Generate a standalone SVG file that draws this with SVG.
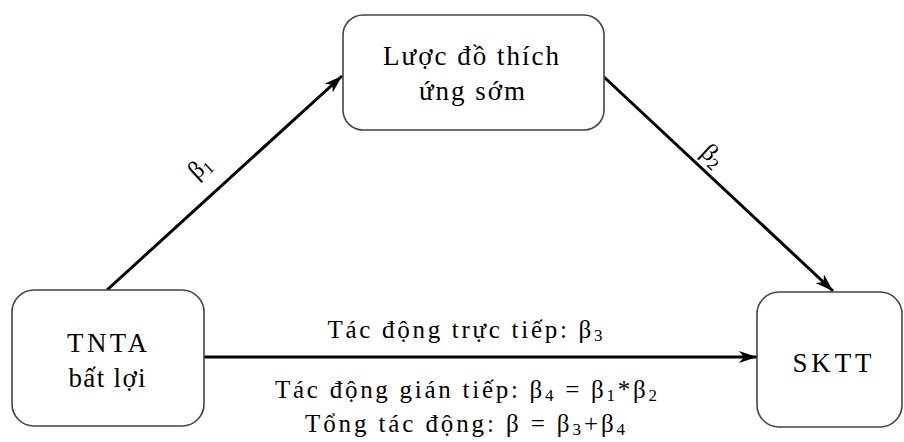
<svg xmlns="http://www.w3.org/2000/svg" width="904" height="442" viewBox="0 0 904 442">
  <defs>
    <marker id="arr" markerUnits="userSpaceOnUse" markerWidth="20" markerHeight="12" refX="18" refY="6" orient="auto">
      <path d="M0,0 L18,6 L0,12 L5,6 z" fill="#000"/>
    </marker>
    <style>
      .box { fill: #fff; stroke: #444; stroke-width: 1.6; }
      .t { font-family: "Liberation Serif", "Times New Roman", serif; font-size: 25px; fill: #000; }
      .n { font-size: 27px; }
      .conn { stroke: #000; stroke-width: 3; fill: none; marker-end: url(#arr); }
      .sub { font-size: 17px; }
    </style>
  </defs>
  <rect width="904" height="442" fill="#fff"/>

  <g id="edges">
    <line class="conn" x1="107" y1="290" x2="342" y2="76"/>
    <line class="conn" x1="604" y1="77" x2="833" y2="291"/>
    <line class="conn" x1="204" y1="357" x2="757" y2="357"/>
    <text class="t" transform="translate(200,168) rotate(-42)" x="0" y="7" text-anchor="middle">β<tspan class="sub" dy="4">1</tspan></text>
    <text class="t" transform="translate(712,156) rotate(43)" x="0" y="7" text-anchor="middle">β<tspan class="sub" dy="4">2</tspan></text>
    <text class="t" x="465" y="338" text-anchor="middle" textLength="275" lengthAdjust="spacing">Tác động trực tiếp: β<tspan class="sub" dy="3">3</tspan></text>
    <text class="t" x="466" y="398" text-anchor="middle" textLength="382" lengthAdjust="spacing">Tác động gián tiếp: β<tspan class="sub" dy="3">4</tspan><tspan dy="-3"> = β</tspan><tspan class="sub" dy="3">1</tspan><tspan dy="-3">*β</tspan><tspan class="sub" dy="3">2</tspan></text>
    <text class="t" x="465" y="432" text-anchor="middle" textLength="320" lengthAdjust="spacing">Tổng tác động: β = β<tspan class="sub" dy="3">3</tspan><tspan dy="-3">+β</tspan><tspan class="sub" dy="3">4</tspan></text>
  </g>

  <g id="node-tnta">
    <rect class="box" x="12" y="290" width="192" height="136" rx="22" ry="22"/>
    <text class="t n" x="107" y="352" text-anchor="middle" textLength="80" lengthAdjust="spacing">TNTA</text>
    <text class="t n" x="107" y="387" text-anchor="middle" textLength="77" lengthAdjust="spacing">bất lợi</text>
  </g>

  <g id="node-luoc-do">
    <rect class="box" x="343" y="15" width="261" height="115" rx="20" ry="20"/>
    <text class="t n" x="471" y="65" text-anchor="middle" textLength="176" lengthAdjust="spacing">Lược đồ thích</text>
    <text class="t n" x="472" y="100" text-anchor="middle" textLength="106" lengthAdjust="spacing">ứng sớm</text>
  </g>

  <g id="node-sktt">
    <rect class="box" x="757" y="292" width="145" height="135" rx="22" ry="22"/>
    <text class="t n" x="832" y="372" text-anchor="middle" textLength="79" lengthAdjust="spacing">SKTT</text>
  </g>
</svg>
